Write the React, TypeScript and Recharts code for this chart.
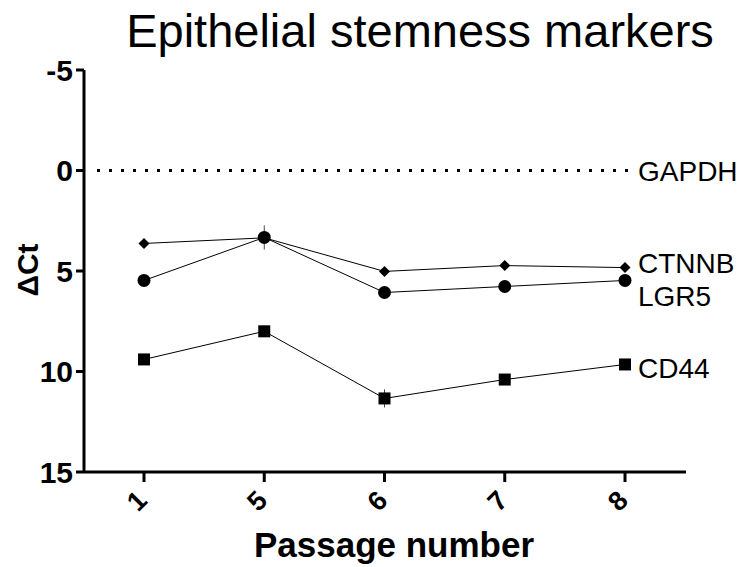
import React from 'react';
import {
  LineChart,
  Line,
  XAxis,
  YAxis,
  ReferenceLine,
  ErrorBar,
} from 'recharts';

const passages = ['1', '5', '6', '7', '8'];
const ctnnb = [3.63, 3.35, 5.02, 4.73, 4.83];
const lgr5 = [5.47, 3.33, 6.07, 5.77, 5.47];
const cd44 = [9.4, 8.0, 11.34, 10.4, 9.65];
const lgr5Err = [0.15, 0.6, 0.15, 0.15, 0.15];
const cd44Err = [0.15, 0.15, 0.45, 0.15, 0.15];
const yTicks = [-5, 0, 5, 10, 15];

const data = passages.map((p, i) => ({
  passage: p,
  ctnnb: ctnnb[i],
  lgr5: lgr5[i],
  cd44: cd44[i],
  lgr5Err: lgr5Err[i],
  cd44Err: cd44Err[i],
}));

const FONT = '"Liberation Sans", Arial, Helvetica, sans-serif';

const Diamond = (props: any) => {
  const { cx, cy } = props;
  if (cx == null || cy == null) return null;
  const r = 5.5;
  return (
    <polygon
      points={`${cx},${cy - r} ${cx + r},${cy} ${cx},${cy + r} ${cx - r},${cy}`}
      fill="#000"
    />
  );
};

const Square = (props: any) => {
  const { cx, cy } = props;
  if (cx == null || cy == null) return null;
  const s = 12;
  return <rect x={cx - s / 2} y={cy - s / 2} width={s} height={s} fill="#000" />;
};

const Circle = (props: any) => {
  const { cx, cy } = props;
  if (cx == null || cy == null) return null;
  return <circle cx={cx} cy={cy} r={6.5} fill="#000" />;
};

// series name written to the right of the last point
const endLabel = (text: string, dy: number) => (props: any) => {
  const { x, y, index } = props;
  if (index !== passages.length - 1) return null;
  return (
    <text x={x + 13} y={y + dy} fontFamily={FONT} fontSize={28} fill="#000">
      {text}
    </text>
  );
};

const XTick = (props: any) => {
  const { x, y, payload } = props;
  return (
    <g transform={`translate(${x - 7},${y + 17})`}>
      <text
        transform="rotate(-45)"
        textAnchor="middle"
        dominantBaseline="central"
        fontFamily={FONT}
        fontWeight="bold"
        fontSize={27}
        fill="#000"
      >
        {payload.value}
      </text>
    </g>
  );
};

const YTick = (props: any) => {
  const { x, y, payload } = props;
  return (
    <text
      x={x}
      y={y}
      textAnchor="end"
      dominantBaseline="central"
      fontFamily={FONT}
      fontWeight="bold"
      fontSize={30}
      fill="#000"
    >
      {payload.value}
    </text>
  );
};

const DottedLine = (props: any) => {
  const { x1, y1, x2, y2 } = props;
  return (
    <line
      x1={x1 + 13}
      y1={y1}
      x2={x2 - 58}
      y2={y2}
      stroke="#000"
      strokeWidth={3}
      strokeDasharray="3 9"
    />
  );
};

export default function App() {
  return (
    <div style={{ position: 'absolute', left: 0, top: 0, width: 745, height: 567, background: '#fff' }}>
      <LineChart
        width={745}
        height={567}
        data={data}
        margin={{ top: 70, right: 59, bottom: 0, left: 0 }}
      >
        <text x={420} y={47} textAnchor="middle" fontFamily={FONT} fontSize={47} fill="#000">
          Epithelial stemness markers
        </text>
        <text
          x={38}
          y={270}
          transform="rotate(-90 38 270)"
          textAnchor="middle"
          fontFamily={FONT}
          fontWeight="bold"
          fontSize={30}
          fill="#000"
        >
          ΔCt
        </text>
        <text x={394} y={557} textAnchor="middle" fontFamily={FONT} fontWeight="bold" fontSize={35} fill="#000">
          Passage number
        </text>
        <XAxis
          dataKey="passage"
          height={95}
          padding={{ left: 60, right: 61 }}
          axisLine={{ stroke: '#000', strokeWidth: 3 }}
          tickLine={{ stroke: '#000', strokeWidth: 3 }}
          tickSize={10}
          tick={<XTick />}
          interval={0}
        />
        <YAxis
          width={84}
          reversed
          domain={[-5, 15]}
          ticks={yTicks}
          interval={0}
          axisLine={{ stroke: '#000', strokeWidth: 3 }}
          tickLine={{ stroke: '#000', strokeWidth: 3 }}
          tickSize={8}
          tickMargin={3}
          tick={<YTick />}
        />
        <ReferenceLine
          y={0}
          shape={<DottedLine />}
          label={(p: any) => (
            <text
              x={p.viewBox.x + p.viewBox.width - 48}
              y={p.viewBox.y + 10}
              fontFamily={FONT}
              fontSize={28}
              fill="#000"
            >
              GAPDH
            </text>
          )}
        />
        <Line
          dataKey="ctnnb"
          stroke="#000"
          strokeWidth={1}
          dot={<Diamond />}
          activeDot={false}
          label={endLabel('CTNNB', 5)}
          isAnimationActive={false}
        />
        <Line
          dataKey="lgr5"
          stroke="#000"
          strokeWidth={1}
          dot={<Circle />}
          activeDot={false}
          label={endLabel('LGR5', 26)}
          isAnimationActive={false}
        >
          <ErrorBar dataKey="lgr5Err" width={0} stroke="#444" strokeWidth={1} direction="y" isAnimationActive={false} />
        </Line>
        <Line
          dataKey="cd44"
          stroke="#000"
          strokeWidth={1}
          dot={<Square />}
          activeDot={false}
          label={endLabel('CD44', 14)}
          isAnimationActive={false}
        >
          <ErrorBar dataKey="cd44Err" width={0} stroke="#444" strokeWidth={1} direction="y" isAnimationActive={false} />
        </Line>
      </LineChart>
    </div>
  );
}
